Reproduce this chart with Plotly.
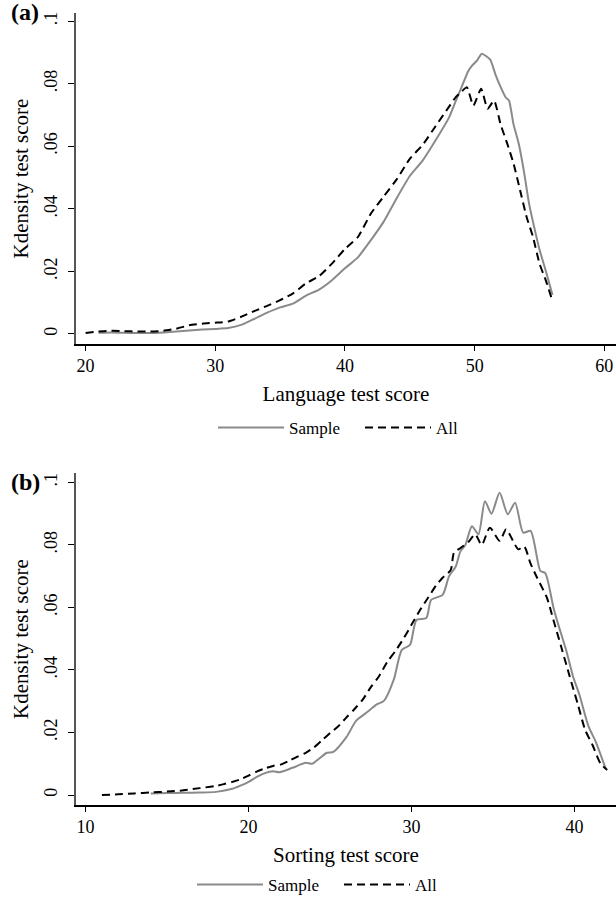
import plotly.graph_objects as go

# ---------------- Panel (a): Language test score ----------------
lang_sample_x = [21, 22, 23, 24, 25, 26, 27, 28, 29, 30, 31, 32, 33, 34, 35, 36, 37, 38, 39,
                 40, 41, 42, 43, 44, 45, 46, 47, 48, 48.5, 49, 49.5, 49.8, 50.2, 50.55, 51.2,
                 51.6, 52, 52.4, 52.65, 53, 53.4, 53.8, 54.2, 54.6, 55, 55.5, 56]
lang_sample_y = [0.0004, 0.0005, 0.0004, 0.0003, 0.0003, 0.0005, 0.0008, 0.0011, 0.0014, 0.0016,
                 0.0019, 0.0029, 0.0048, 0.0068, 0.0085, 0.0097, 0.0123, 0.0142, 0.0172,
                 0.0210, 0.0245, 0.0300, 0.0360, 0.0435, 0.0505, 0.0555, 0.0620, 0.0690, 0.0740,
                 0.0790, 0.0840, 0.0858, 0.0875, 0.0896, 0.0877,
                 0.0830, 0.0790, 0.0756, 0.0746, 0.0670, 0.0608, 0.0520, 0.0416, 0.0340, 0.0270, 0.0200, 0.0125]

lang_all_x = [20, 21, 22, 23, 24, 25, 26, 27, 28, 29, 30, 31, 32, 33, 34, 35, 36, 37, 38, 39,
              40, 41, 42, 43, 44, 45, 46, 47, 48, 48.5, 49, 49.4, 49.9, 50.5, 51, 51.5, 52, 52.5,
              53, 53.5, 54, 54.5, 55, 55.5, 56]
lang_all_y = [0.0003, 0.0008, 0.0010, 0.0009, 0.0008, 0.0008, 0.0010, 0.0017, 0.0028, 0.0033,
              0.0036, 0.0040, 0.0055, 0.0073, 0.0090, 0.0108, 0.0130, 0.0162, 0.0185, 0.0225,
              0.0272, 0.0310, 0.0385, 0.0440, 0.0495, 0.0560, 0.0605, 0.0665, 0.0725, 0.0755,
              0.0775, 0.0789, 0.0730, 0.0784, 0.0720, 0.0746, 0.0670, 0.0610,
              0.0545, 0.0460, 0.0375, 0.0310, 0.0225, 0.0170, 0.0105]

# ---------------- Panel (b): Sorting test score ----------------
sort_sample_x = [14, 15, 16, 17, 18, 19, 19.5, 20, 20.5, 21, 21.5, 21.9, 22.7, 23.5, 23.9, 24.8,
                 25.2, 26, 26.6, 27.2, 27.86, 28.3, 28.9, 29.4, 29.9, 30.3, 30.9, 31.2, 31.9,
                 32.3, 32.7, 33.0, 33.3, 33.7, 34.1, 34.5, 34.9, 35.4, 35.9, 36.35, 36.85, 37.3,
                 37.9, 38.2, 38.7, 39.0, 39.5, 39.9, 40.3, 40.85, 41.3, 41.9]
sort_sample_y = [0.0005, 0.0006, 0.0007, 0.0008, 0.0010, 0.0020, 0.0030, 0.0042, 0.0058, 0.0070,
                 0.0076, 0.0073, 0.0087, 0.0103, 0.0100, 0.0135,
                 0.0138, 0.0185, 0.0238, 0.0262, 0.0290, 0.0301, 0.0368, 0.0464, 0.0480, 0.0560,
                 0.0566, 0.0624, 0.0640, 0.0700, 0.0730, 0.0780, 0.0800, 0.0860, 0.0834, 0.0940,
                 0.0900, 0.0967, 0.0898, 0.0935, 0.0839, 0.0845,
                 0.0717, 0.0710, 0.0600, 0.0545, 0.0460, 0.0380, 0.0320, 0.0220, 0.0170, 0.0085]

sort_all_x = [11, 12, 13, 14, 15, 16, 17, 18, 18.5, 19, 19.5, 20, 20.5, 21, 21.5, 22, 22.5, 23,
              23.5, 24, 24.5, 25, 25.5, 26, 26.5, 27, 27.5, 28, 28.5, 29, 29.5, 30, 30.5, 31,
              31.5, 31.9, 32.4, 32.6, 33.0, 33.5, 33.9, 34.3, 34.8, 35.4, 35.8, 36.2, 36.55, 36.9,
              37.3, 37.7, 38.3, 38.7, 39.2, 39.7, 40.2, 40.65, 41.1, 41.6, 42.0]
sort_all_y = [0.0000, 0.0002, 0.0005, 0.0008, 0.0011, 0.0015, 0.0022, 0.0029, 0.0035, 0.0042,
              0.0050, 0.0062, 0.0075, 0.0085, 0.0093, 0.0098, 0.0110, 0.0123,
              0.0135, 0.0152, 0.0175, 0.0198, 0.0220, 0.0248, 0.0275, 0.0305, 0.0345, 0.0380,
              0.0425, 0.0460, 0.0500, 0.0545, 0.0590, 0.0630,
              0.0670, 0.0695, 0.0720, 0.0775, 0.0790, 0.0810, 0.0834, 0.0800, 0.0855, 0.0813,
              0.0850, 0.0815, 0.0786, 0.0795,
              0.0740, 0.0695, 0.0631, 0.0560, 0.0470, 0.0379, 0.0290, 0.0208, 0.0160, 0.0100, 0.0080]

y_tickvals = [0, 0.02, 0.04, 0.06, 0.08, 0.1]
y_ticktext = ["0", ".02", ".04", ".06", ".08", ".1"]
lang_xticks = [20, 30, 40, 50, 60]
sort_xticks = [10, 20, 30, 40]

FONT = "Liberation Serif, Times New Roman, serif"
GRAY = "#8a8a8a"

fig = go.Figure()

fig.add_trace(go.Scatter(x=lang_sample_x, y=lang_sample_y, mode="lines", name="Sample",
                         line=dict(color=GRAY, width=2, shape="spline", smoothing=0.5),
                         xaxis="x", yaxis="y", legend="legend"))
fig.add_trace(go.Scatter(x=lang_all_x, y=lang_all_y, mode="lines", name="All",
                         line=dict(color="black", width=2, dash="8px,5px", shape="spline", smoothing=0.5),
                         xaxis="x", yaxis="y", legend="legend"))
fig.add_trace(go.Scatter(x=sort_sample_x, y=sort_sample_y, mode="lines", name="Sample",
                         line=dict(color=GRAY, width=2, shape="spline", smoothing=0.7),
                         xaxis="x2", yaxis="y2", legend="legend2"))
fig.add_trace(go.Scatter(x=sort_all_x, y=sort_all_y, mode="lines", name="All",
                         line=dict(color="black", width=2, dash="8px,5px", shape="spline", smoothing=0.7),
                         xaxis="x2", yaxis="y2", legend="legend2"))

W, H = 616, 900
x_dom = [76 / W, 1.0]
ya_dom = [1 - 344 / H, 1 - 13 / H]
yb_dom = [1 - 805 / H, 1 - 473 / H]

common_x = dict(showline=True, linecolor="black", linewidth=1.5, ticks="outside", ticklen=5,
                tickcolor="black", showgrid=False, zeroline=False,
                tickfont=dict(family=FONT, size=18, color="black"),
                title_font=dict(family=FONT, size=21, color="black"), title_standoff=11)
common_y = dict(showline=True, linecolor="#555555", linewidth=1.5, ticks="outside", ticklen=6,
                tickcolor="black", showgrid=False, zeroline=False,
                tickvals=y_tickvals, ticktext=y_ticktext, tickangle=-90,
                tickfont=dict(family=FONT, size=18, color="black"), ticklabelstandoff=4,
                title_font=dict(family=FONT, size=21, color="black"), title_standoff=7)

legend_common = dict(orientation="h", yanchor="middle", xanchor="left",
                     font=dict(family=FONT, size=17, color="black"), itemwidth=66,
                     entrywidth=66, entrywidthmode="pixels", bgcolor="rgba(0,0,0,0)")

fig.update_layout(
    width=W, height=H,
    margin=dict(l=0, r=0, t=0, b=0, autoexpand=False),
    paper_bgcolor="white", plot_bgcolor="white",
    font=dict(family=FONT, color="black"),
    xaxis=dict(domain=x_dom, anchor="y", range=[19.26, 60.9], tickvals=lang_xticks,
               title_text="Language test score", **common_x),
    yaxis=dict(domain=ya_dom, anchor="x", range=[-0.0032, 0.1026],
               title_text="Kdensity test score", **common_y),
    xaxis2=dict(domain=x_dom, anchor="y2", range=[9.41, 42.54], tickvals=sort_xticks,
                title_text="Sorting test score", **common_x),
    yaxis2=dict(domain=yb_dom, anchor="x2", range=[-0.0032, 0.103],
                title_text="Kdensity test score", **common_y),
    legend=dict(x=213 / W, y=1 - 428 / H, **legend_common),
    legend2=dict(x=192 / W, y=1 - 885 / H, **legend_common),
    annotations=[
        dict(text="<b>(a)</b>", x=25 / W, y=1 - 12 / H, xref="paper", yref="paper",
             xanchor="center", yanchor="middle", showarrow=False,
             font=dict(family=FONT, size=24, color="black")),
        dict(text="<b>(b)</b>", x=25 / W, y=1 - 482 / H, xref="paper", yref="paper",
             xanchor="center", yanchor="middle", showarrow=False,
             font=dict(family=FONT, size=24, color="black")),
    ],
    showlegend=True,
)

fig.write_html("out.html", config={"displayModeBar": False},
               post_script="document.body.style.margin='0';document.body.style.overflow='hidden';")
